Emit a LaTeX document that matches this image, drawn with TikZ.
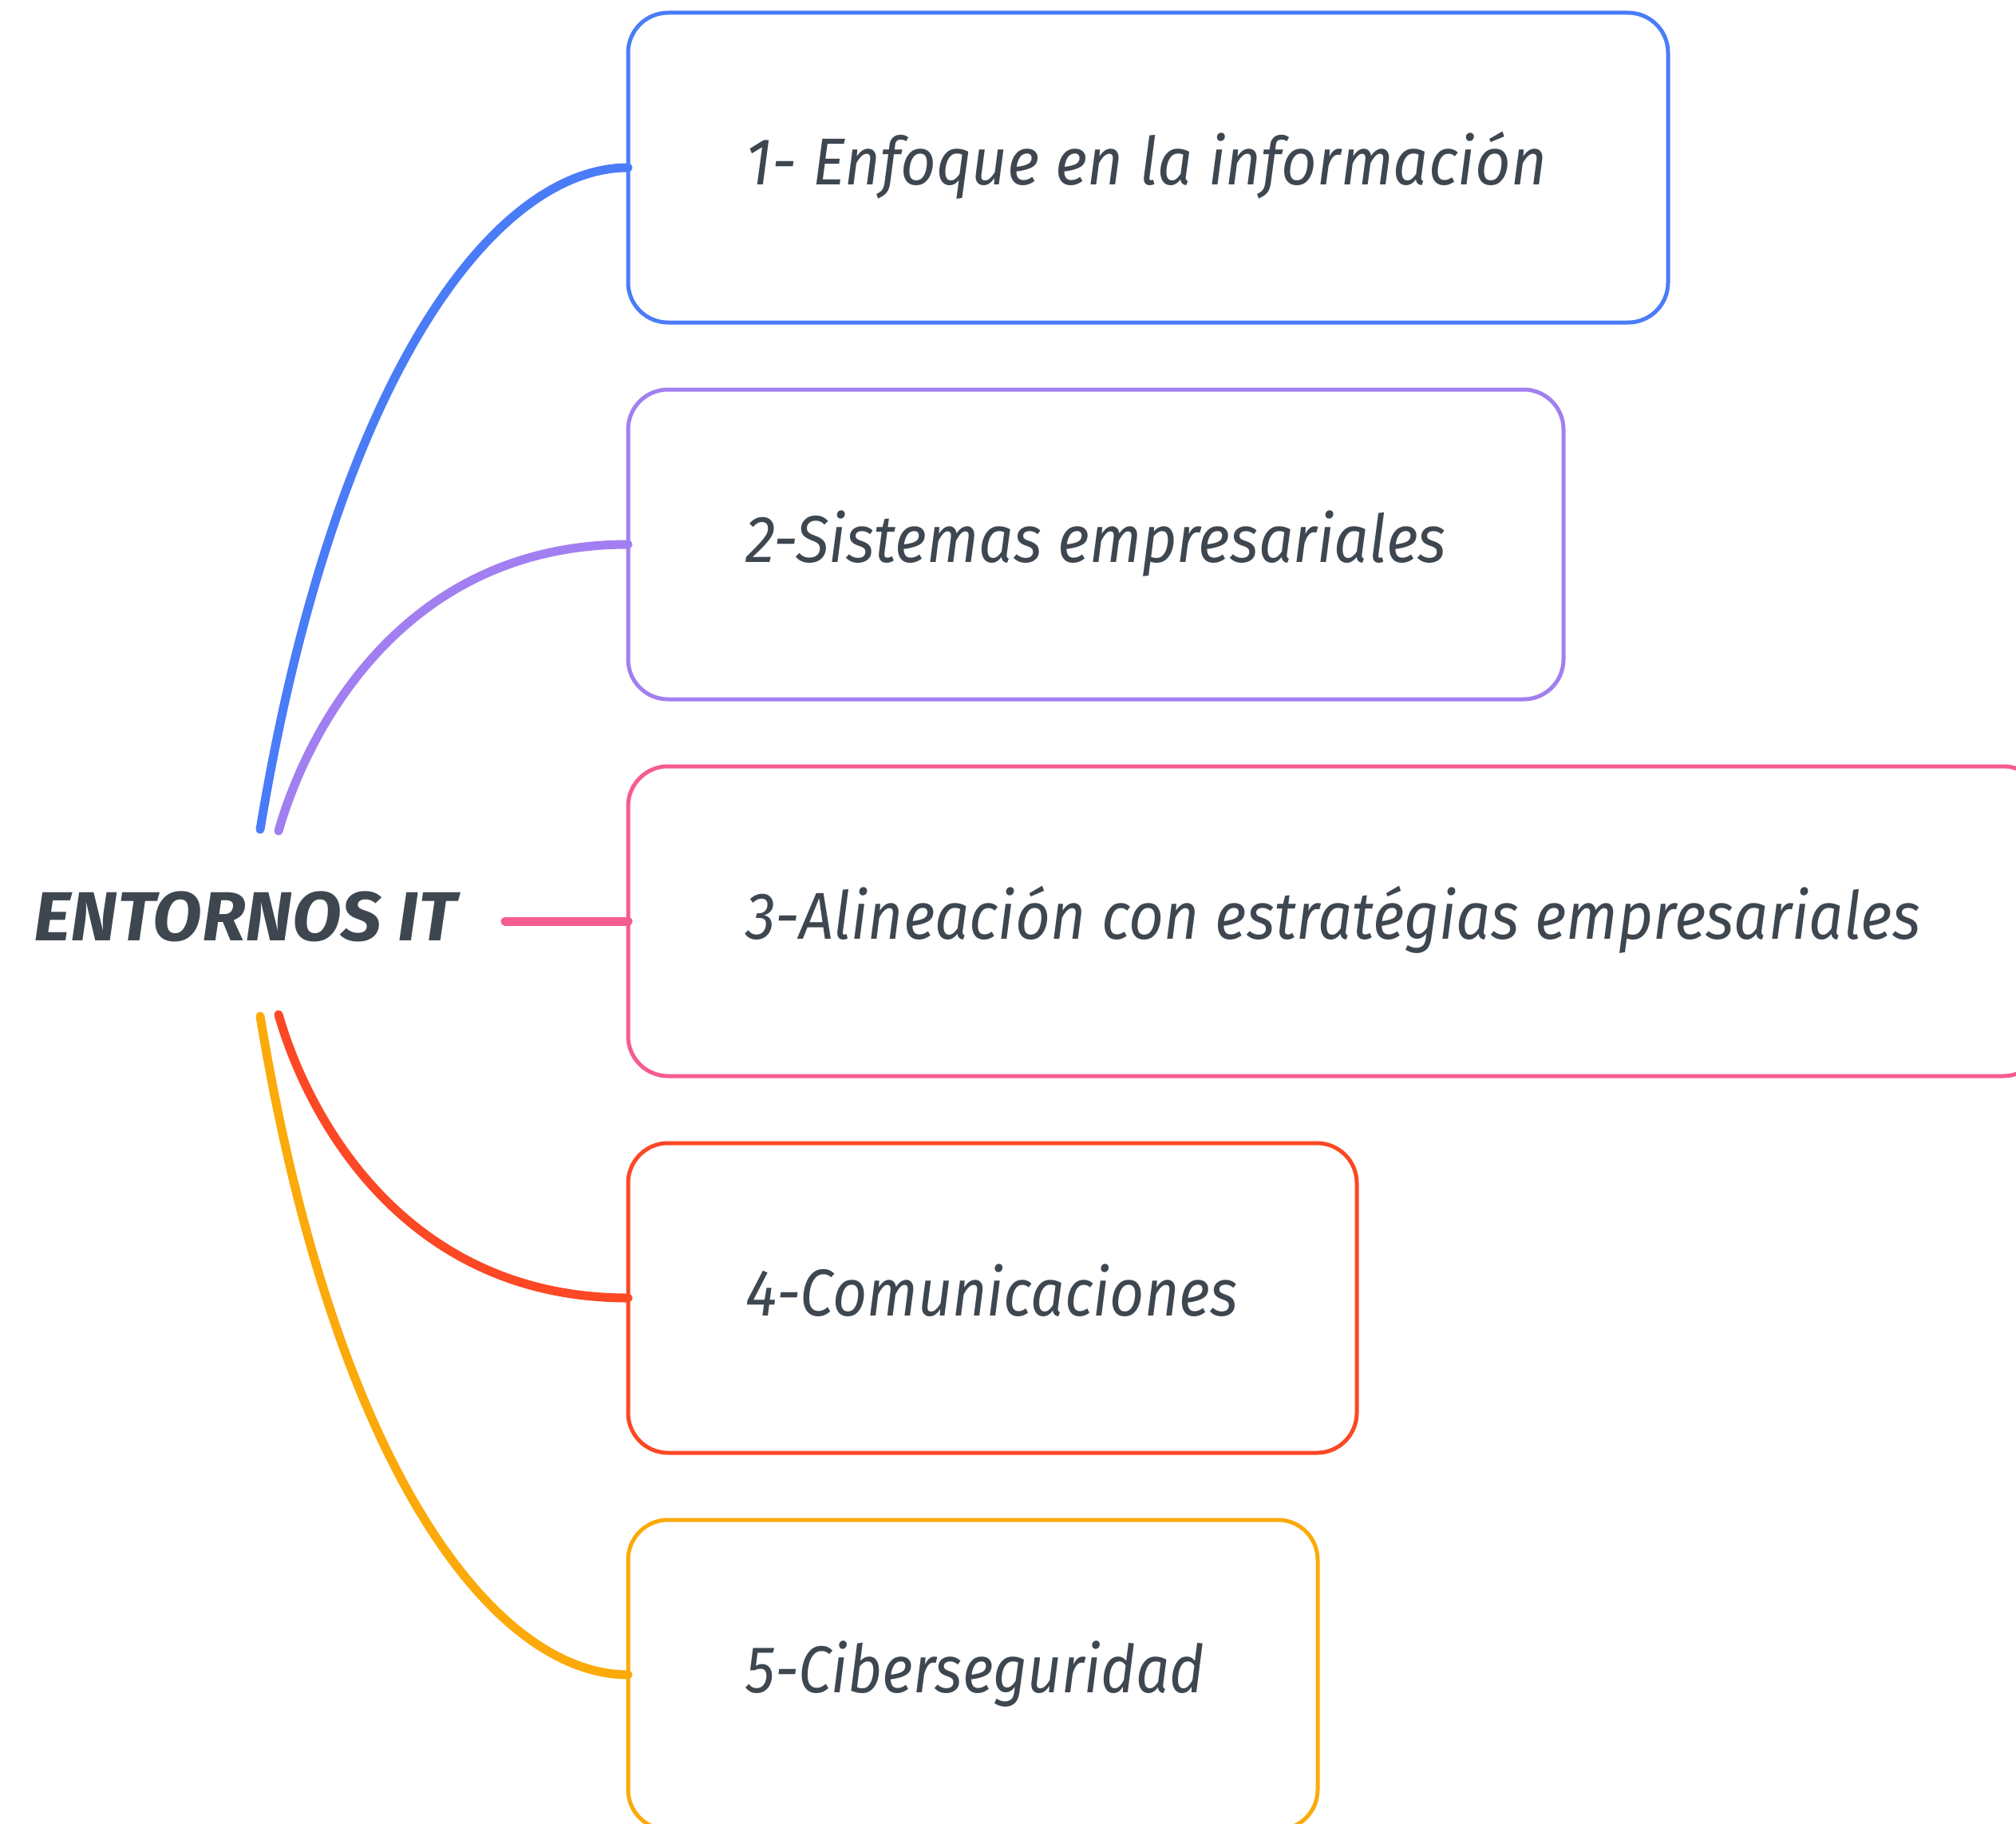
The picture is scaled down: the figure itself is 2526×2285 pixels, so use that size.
\documentclass[tikz,border=0pt]{standalone}
\usepackage{fontspec}
\setmainfont{Fira Sans}
\usepackage{graphicx}
\definecolor{cblue}{HTML}{4A7CF8}
\definecolor{cpurple}{HTML}{A27FF1}
\definecolor{cpink}{HTML}{F65C8E}
\definecolor{cred}{HTML}{FC4824}
\definecolor{corange}{HTML}{FCAA0A}
\definecolor{textgray}{HTML}{3E4750}
\begin{document}
\begin{tikzpicture}[x=1pt,y=-1pt,
  box/.style={draw=#1, line width=5pt, rounded corners=50pt, minimum height=388pt,
    inner sep=0pt, outer sep=0pt, anchor=north west},
  conn/.style={draw=#1, line width=11pt, line cap=round},
  lbl/.style={anchor=base west, inner sep=0pt, text=textgray,
    font=\fontsize{83}{90}\selectfont\itshape},
  rootlbl/.style={anchor=base west, inner sep=0pt, text=textgray,
    font=\fontsize{87}{95}\selectfont\bfseries\itshape}]
\useasboundingbox (0,0) rectangle (2526,2285);
\clip (0,0) rectangle (2526,2285);
\fill[white] (0,0) rectangle (2526,2285);

% root
\node[rootlbl] (root) at (42,1178) {\resizebox{530pt}{\height}{ENTORNOS IT}};

% boxes
\node[box=cblue,   minimum width=1303pt] (b1) at (787,16)   {};
\node[box=cpurple, minimum width=1172pt] (b2) at (787,488)  {};
\node[box=cpink,   minimum width=1773pt] (b3) at (787,960)  {};
\node[box=cred,    minimum width=913pt]  (b4) at (787,1432) {};
\node[box=corange, minimum width=864pt]  (b5) at (787,1904) {};

% labels
\node[lbl] (t1) at (934,232)  {\resizebox{1004pt}{\height}{1- Enfoque en la información}};
\node[lbl] (t2) at (934,704)  {\resizebox{878pt}{\height}{2-Sistemas empresariales}};
\node[lbl] (t3) at (934,1176) {\resizebox{1472pt}{\height}{3-Alineación con estratégias empresariales}};
\node[lbl] (t4) at (934,1648) {\resizebox{617pt}{\height}{4-Comunicaciones}};
\node[lbl] (t5) at (934,2120) {\resizebox{575pt}{\height}{5-Ciberseguridad}};

% connector start points
\coordinate (s1) at (326,1039);
\coordinate (s2) at (349,1041);
\coordinate (s3) at (633,1154);
\coordinate (s4) at (349,1271);
\coordinate (s5) at (326,1273);

\draw[conn=cblue]   (s1) .. controls (420,470) and (620,210) .. (b1.west);
\draw[conn=cpurple] (s2) .. controls (385,915) and (505,682) .. (b2.west);
\draw[conn=cpink]   (s3) -- (b3.west);
\draw[conn=cred]    (s4) .. controls (385,1397) and (505,1626) .. (b4.west);
\draw[conn=corange] (s5) .. controls (420,1842) and (620,2098) .. (b5.west);
\end{tikzpicture}
\end{document}
